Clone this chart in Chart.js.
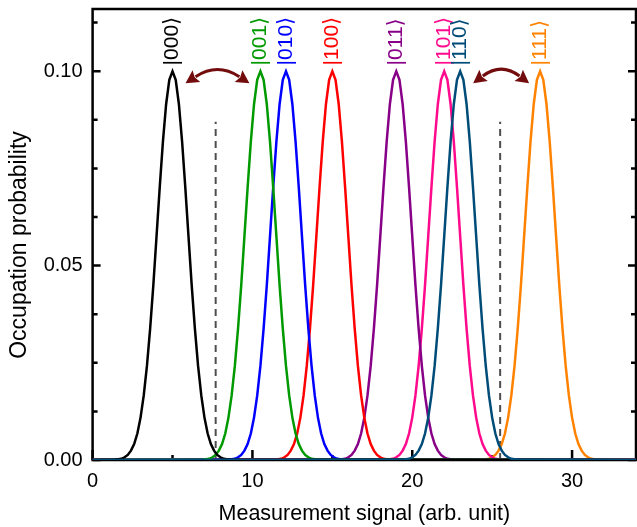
<!DOCTYPE html>
<html>
<head>
<meta charset="utf-8">
<script src="https://cdn.jsdelivr.net/npm/chart.js@4.4.0/dist/chart.umd.min.js"></script>
<style>
  html, body { margin: 0; padding: 0; background: #fff; }
</style>
</head>
<body>
<canvas id="chart" width="637" height="527"></canvas>
<script>
// measured states and where each peak sits on the signal axis
const states = ['|000⟩', '|001⟩', '|010⟩', '|100⟩', '|011⟩', '|101⟩', '|110⟩', '|111⟩'];
const centers = [5.0, 10.5, 12.1, 15.0, 19.0, 22.0, 23.0, 28.0];
const colors = ['#000000', '#009a00', '#0000ff', '#ff0000', '#870087', '#ff0a8c', '#004c78', '#ff8200'];

const peakDx = [-3.6, -3.4, -3.2, -3.0, -2.8, -2.6, -2.4, -2.2, -2.0, -1.8, -1.6, -1.4, -1.2, -1.0, -0.8, -0.6, -0.4, -0.2,
  0, 0.2, 0.4, 0.6, 0.8, 1.0, 1.2, 1.4, 1.6, 1.8, 2.0, 2.2, 2.4, 2.6, 2.8, 3.0, 3.2, 3.4, 3.6];
const peakY = [0.0001, 0.0002, 0.0003, 0.0007, 0.0013, 0.0024, 0.0041, 0.0068, 0.0109, 0.0166, 0.0242, 0.0338, 0.0450, 0.0575, 0.0701, 0.0819, 0.0915, 0.0978,
  0.1000, 0.0978, 0.0915, 0.0819, 0.0701, 0.0575, 0.0450, 0.0338, 0.0242, 0.0166, 0.0109, 0.0068, 0.0041, 0.0024, 0.0013, 0.0007, 0.0003, 0.0002, 0.0001];

// readout thresholds (dashed) and the transitions marked by arrows
const thresholds = [7.7, 25.5];
const thresholdTop = 0.087;
const transitions = [[0, 1], [6, 7]];

// axes
const xRange = [0, 34];
const yRange = [0, 0.116];
const xTicks = [0, 10, 20, 30];
const xMinor = [5, 15, 25];
const yTicks = [0, 0.05, 0.10];
const yMinor = [0.0125, 0.025, 0.0375, 0.0625, 0.075, 0.0875, 0.1125];

const FONT = "'Liberation Sans', Arial, 'DejaVu Sans', sans-serif";

function curve(c) {
  const pts = [{ x: xRange[0], y: 0 }];
  peakDx.forEach((d, i) => pts.push({ x: c + d, y: peakY[i] }));
  pts.push({ x: xRange[1], y: 0 });
  return pts;
}

const datasets = states.map((s, i) => ({
  label: s,
  data: curve(centers[i]),
  borderColor: colors[i],
  borderWidth: 2.5,
  pointRadius: 0,
  tension: 0,
  order: i === 6 ? 0 : i + 1
}));
thresholds.forEach(t => datasets.push({
  label: 'threshold',
  data: [{ x: t, y: 0 }, { x: t, y: thresholdTop }],
  borderColor: '#4d4d4d',
  borderWidth: 2,
  borderDash: [7, 5],
  pointRadius: 0,
  order: 20
}));

const framePlugin = {
  id: 'frame',
  beforeDatasetsDraw(chart) {
    const { ctx, chartArea: a, scales: { x, y } } = chart;
    ctx.save();
    ctx.strokeStyle = '#000';
    ctx.lineWidth = 2.5;
    ctx.strokeRect(a.left, a.top, a.right - a.left, a.bottom - a.top);
    ctx.beginPath();
    xTicks.forEach(v => { const p = x.getPixelForValue(v); ctx.moveTo(p, a.bottom); ctx.lineTo(p, a.bottom - 10); });
    xMinor.forEach(v => { const p = x.getPixelForValue(v); ctx.moveTo(p, a.bottom); ctx.lineTo(p, a.bottom - 5); });
    yTicks.forEach(v => {
      const p = y.getPixelForValue(v);
      ctx.moveTo(a.left, p); ctx.lineTo(a.left + 8, p);
      ctx.moveTo(a.right, p); ctx.lineTo(a.right - 8, p);
    });
    yMinor.forEach(v => {
      const p = y.getPixelForValue(v);
      ctx.moveTo(a.left, p); ctx.lineTo(a.left + 5, p);
      ctx.moveTo(a.right, p); ctx.lineTo(a.right - 5, p);
    });
    ctx.stroke();
    // y axis title
    ctx.fillStyle = '#000';
    ctx.font = '23px ' + FONT;
    ctx.textAlign = 'center';
    ctx.textBaseline = 'middle';
    ctx.translate(20, 245);
    ctx.rotate(-Math.PI / 2);
    ctx.fillText('Occupation probability', 0, 0);
    ctx.restore();
  },
  afterDatasetsDraw(chart) {
    const { ctx, scales: { x, y } } = chart;
    ctx.save();
    // state labels, rotated
    ctx.font = '21px ' + FONT;
    ctx.textAlign = 'left';
    ctx.textBaseline = 'middle';
    states.forEach((s, i) => {
      ctx.save();
      ctx.translate(x.getPixelForValue(centers[i]), y.getPixelForValue(0.1015));
      ctx.rotate(-Math.PI / 2);
      ctx.fillStyle = colors[i];
      ctx.fillText(s, 0, 0);
      ctx.restore();
    });
    // curved double arrows between neighbouring peaks
    ctx.strokeStyle = '#730c0c';
    ctx.fillStyle = '#730c0c';
    ctx.lineWidth = 3;
    transitions.forEach(([a, b]) => {
      const yb = y.getPixelForValue(0.0969);
      const x0 = x.getPixelForValue(centers[a]) + 13;
      const x1 = x.getPixelForValue(centers[b]) - 11;
      const cx = (x0 + x1) / 2, cy = yb - 21;
      const head = 15, half = 7;
      const ends = [[x0, yb], [x1, yb]];
      const bases = ends.map(([ex, ey]) => {
        const dx = ex - cx, dy = ey - cy, L = Math.hypot(dx, dy);
        const ux = dx / L, uy = dy / L;
        const bx = ex - ux * head, by = ey - uy * head;
        ctx.beginPath();
        ctx.moveTo(ex, ey);
        ctx.lineTo(bx - uy * half + ux * 2, by + ux * half + uy * 2);
        ctx.lineTo(bx + ux * 4, by + uy * 4);
        ctx.lineTo(bx + uy * half + ux * 2, by - ux * half + uy * 2);
        ctx.closePath();
        ctx.fill();
        return [ex - ux * (head - 3), ey - uy * (head - 3)];
      });
      ctx.beginPath();
      ctx.moveTo(bases[0][0], bases[0][1]);
      ctx.quadraticCurveTo(cx, cy, bases[1][0], bases[1][1]);
      ctx.stroke();
    });
    ctx.restore();
  }
};

new Chart(document.getElementById('chart'), {
  type: 'line',
  data: { datasets },
  options: {
    responsive: false,
    animation: false,
    devicePixelRatio: 1,
    layout: { padding: { top: 9, right: 1, left: 0, bottom: 0 } },
    plugins: { legend: { display: false }, tooltip: { enabled: false } },
    scales: {
      x: {
        type: 'linear',
        min: xRange[0], max: xRange[1],
        grid: { display: false, drawTicks: false },
        border: { display: false },
        afterBuildTicks: s => { s.ticks = xTicks.map(v => ({ value: v })); },
        afterFit: s => { s.height = 67; s.paddingLeft = 0; s.paddingRight = 0; },
        ticks: { color: '#000', font: { family: FONT, size: 20 }, padding: 9, maxRotation: 0 },
        title: {
          display: true, text: 'Measurement signal (arb. unit)', color: '#000',
          font: { family: FONT, size: 21.5 }, padding: { top: 0, bottom: 0 }
        }
      },
      y: {
        min: yRange[0], max: yRange[1],
        grid: { display: false, drawTicks: false },
        border: { display: false },
        afterBuildTicks: s => { s.ticks = yTicks.map(v => ({ value: v })); },
        afterFit: s => { s.width = 92.6; s.paddingTop = 0; s.paddingBottom = 0; },
        ticks: { color: '#000', font: { family: FONT, size: 20 }, padding: 10, callback: v => v.toFixed(2) },
        title: { display: false }
      }
    }
  },
  plugins: [framePlugin]
});
</script>
</body>
</html>
